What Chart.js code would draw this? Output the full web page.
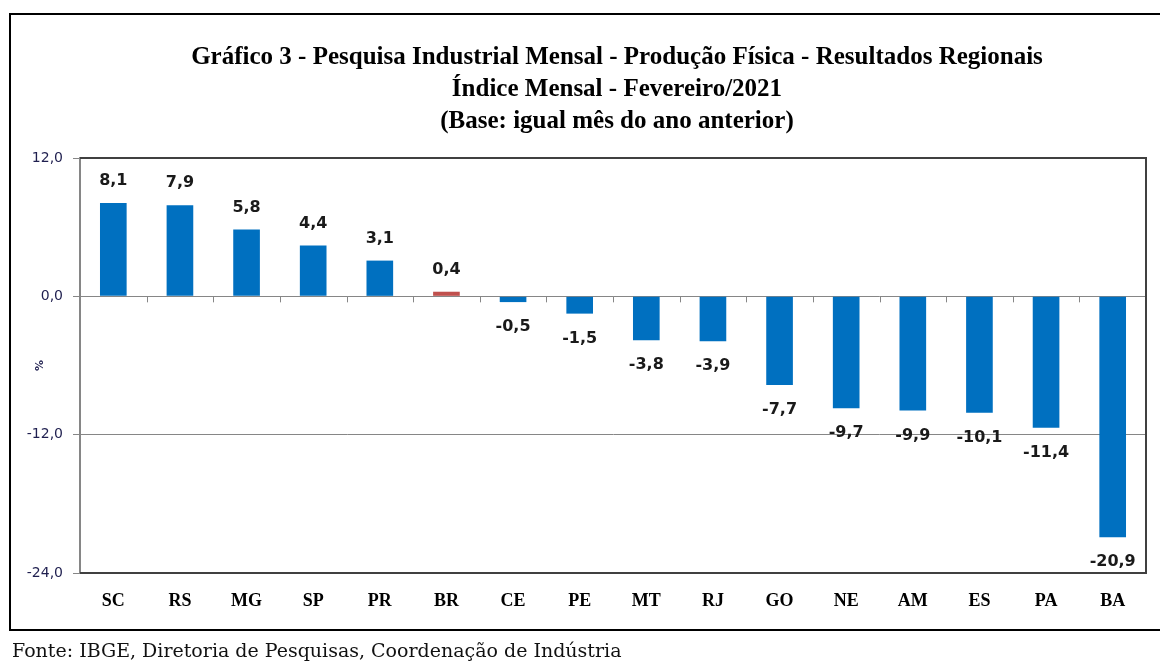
<!DOCTYPE html>
<html>
<head>
<meta charset="utf-8">
<script src="https://cdn.jsdelivr.net/npm/chart.js@4"></script>
<style>
  body { margin: 0; background: #fff; }
  #wrap { position: relative; width: 1160px; height: 662px; overflow: hidden; }
  #box { position: absolute; left: 9px; top: 13px; width: 1200px; height: 614px; border: 2px solid #000; }
  #titulo { position: absolute; left: 317px; width: 600px; top: 40px; text-align: center; font-family: "Liberation Serif", serif; font-weight: bold; font-size: 25px; line-height: 32px; color: #000; white-space: nowrap; }
  #titulo div { margin-left: -300px; margin-right: -300px; }
  #fonte { position: absolute; left: 12px; top: 639px; font-family: "DejaVu Serif", serif; font-size: 19px; color: #111; white-space: nowrap; }
  canvas { position: absolute; left: 0; top: 0; }
</style>
</head>
<body>
<div id="wrap">
  <div id="box"></div>
  <canvas id="myChart" width="1160" height="662"></canvas>
  <div id="titulo"></div>
  <div id="fonte">Fonte: IBGE, Diretoria de Pesquisas, Coordenação de Indústria</div>
</div>
<script>
const regions = ["SC", "RS", "MG", "SP", "PR", "BR", "CE", "PE", "MT", "RJ", "GO", "NE", "AM", "ES", "PA", "BA"];
const values = [8.1, 7.9, 5.8, 4.4, 3.1, 0.4, -0.5, -1.5, -3.8, -3.9, -7.7, -9.7, -9.9, -10.1, -11.4, -20.9];
const yTicks = [12, 0, -12, -24];
const titleLines = [
  "Gráfico 3 - Pesquisa Industrial Mensal - Produção Física - Resultados Regionais",
  "Índice Mensal - Fevereiro/2021",
  "(Base: igual mês do ano anterior)"
];

titleLines.forEach((t) => {
  const d = document.createElement("div");
  d.textContent = t;
  document.getElementById("titulo").appendChild(d);
});

const blue = "#0070c0";
const red = "#c0504d";

const fmt = (v) => v.toFixed(1).replace(".", ",");

// value labels, zero line ticks and plot border
const extras = {
  id: "extras",
  afterDatasetsDraw(chart) {
    const { ctx, chartArea, scales } = chart;
    const x = scales.x, y = scales.y;
    const y0 = y.getPixelForValue(0);
    ctx.save();
    // small ticks under the zero line
    ctx.strokeStyle = "#868686";
    ctx.lineWidth = 1;
    for (let i = 1; i < regions.length; i++) {
      const bx = Math.round((x.getPixelForValue(i - 1) + x.getPixelForValue(i)) / 2) + 0.5;
      ctx.beginPath();
      ctx.moveTo(bx, y0);
      ctx.lineTo(bx, y0 + 6);
      ctx.stroke();
    }
    // plot area border (top, right, bottom)
    ctx.strokeStyle = "#404040";
    ctx.lineWidth = 2;
    ctx.beginPath();
    ctx.moveTo(chartArea.left, chartArea.top);
    ctx.lineTo(chartArea.right, chartArea.top);
    ctx.lineTo(chartArea.right, chartArea.bottom);
    ctx.lineTo(chartArea.left, chartArea.bottom);
    ctx.stroke();
    // value labels
    ctx.font = "bold 16px 'DejaVu Sans'";
    ctx.fillStyle = "#1a1a1a";
    ctx.textAlign = "center";
    ctx.textBaseline = "middle";
    chart.getDatasetMeta(0).data.forEach((bar, i) => {
      const v = values[i];
      const ly = v >= 0 ? bar.y - 22 : bar.y + 25;
      ctx.fillText(fmt(v), bar.x, ly);
    });
    ctx.restore();
  }
};

const ctx = document.getElementById("myChart").getContext("2d");
const myChart = new Chart(ctx, {
  type: "bar",
  data: {
    labels: regions,
    datasets: [
      {
        data: values,
        backgroundColor: regions.map((r) => (r === "BR" ? red : blue)),
        categoryPercentage: 1,
        barPercentage: 0.4,
      }
    ]
  },
  options: {
    responsive: false,
    animation: false,
    layout: { padding: { top: 158, right: 14, bottom: 39, left: 0 } },
    plugins: {
      legend: { display: false },
      tooltip: { enabled: false },
      title: { display: false }
    },
    scales: {
      x: {
        grid: { display: false, drawTicks: false },
        border: { display: false },
        ticks: {
          color: "#000",
          font: { family: "'Liberation Serif'", size: 18, weight: "bold" },
          padding: 18
        },
        afterFit(scale) { scale.height = 50; }
      },
      y: {
        min: -24,
        max: 12,
        afterBuildTicks(scale) { scale.ticks = yTicks.map((v) => ({ value: v })); },
        grid: { color: "#868686", lineWidth: 1, tickLength: 7 },
        border: { color: "#868686", width: 2 },
        ticks: {
          color: "#1f1f4f",
          font: { family: "'DejaVu Sans'", size: 14 },
          padding: 10,
          callback: (v) => fmt(v)
        },
        title: {
          display: true,
          text: "%",
          color: "#1f1f4f",
          font: { family: "'DejaVu Sans'", size: 11, weight: "bold" },
          padding: { top: 34, bottom: 0 }
        },
        afterFit(scale) { scale.width = 80; }
      }
    }
  },
  plugins: [extras]
});
</script>
</body>
</html>
